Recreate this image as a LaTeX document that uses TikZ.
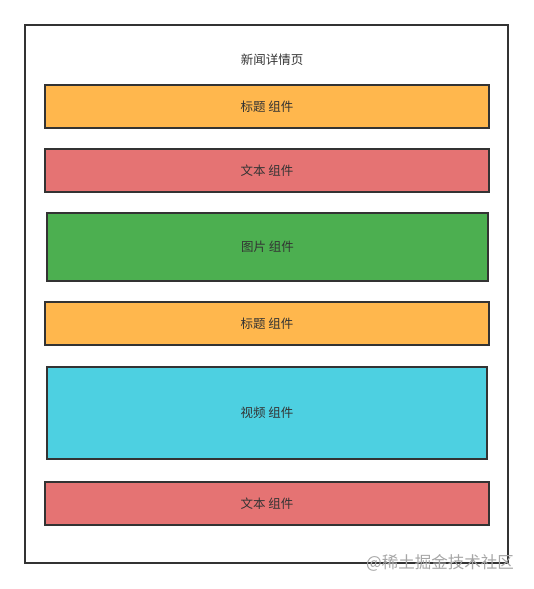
\documentclass[tikz,border=0pt]{standalone}
\usepackage{fontspec}
\newfontfamily\cjk{Noto Sans CJK SC}
\definecolor{comporange}{HTML}{FFB74D}
\definecolor{compred}{HTML}{E57373}
\definecolor{compgreen}{HTML}{4CAF50}
\definecolor{compcyan}{HTML}{4DD0E1}
\definecolor{textgray}{HTML}{333333}
\tikzset{
	comp/.style={draw=textgray, line width=1.6pt, minimum width=444pt, minimum height=43pt,
		inner sep=0pt, font=\cjk\fontsize{12.5}{14}\selectfont, text=textgray},
}
\begin{document}
\begin{tikzpicture}[x=1pt,y=-1pt]
\useasboundingbox (0,0) rectangle (533,589);
\draw[textgray, line width=1.6pt] (25,25) rectangle (508,563);
\node[font=\cjk\fontsize{12.5}{14}\selectfont, text=textgray] (page) at (272,60) {新闻详情页};
\node[comp, fill=comporange] (title1) at (267,106.5) {标题 组件};
\node[comp, fill=compred] (text1) at (267,170.5) {文本 组件};
\node[comp, fill=compgreen, minimum width=441pt, minimum height=68pt] (image) at (267.5,247) {图片 组件};
\node[comp, fill=comporange] (title2) at (267,323.5) {标题 组件};
\node[comp, fill=compcyan, minimum width=440pt, minimum height=92pt] (video) at (267,413) {视频 组件};
\node[comp, fill=compred] (text2) at (267,503.5) {文本 组件};
\node[font=\cjk\fontsize{16.5}{18}\selectfont, text=black!35] (mark) at (440,563) {@稀土掘金技术社区};
\end{tikzpicture}
\end{document}
